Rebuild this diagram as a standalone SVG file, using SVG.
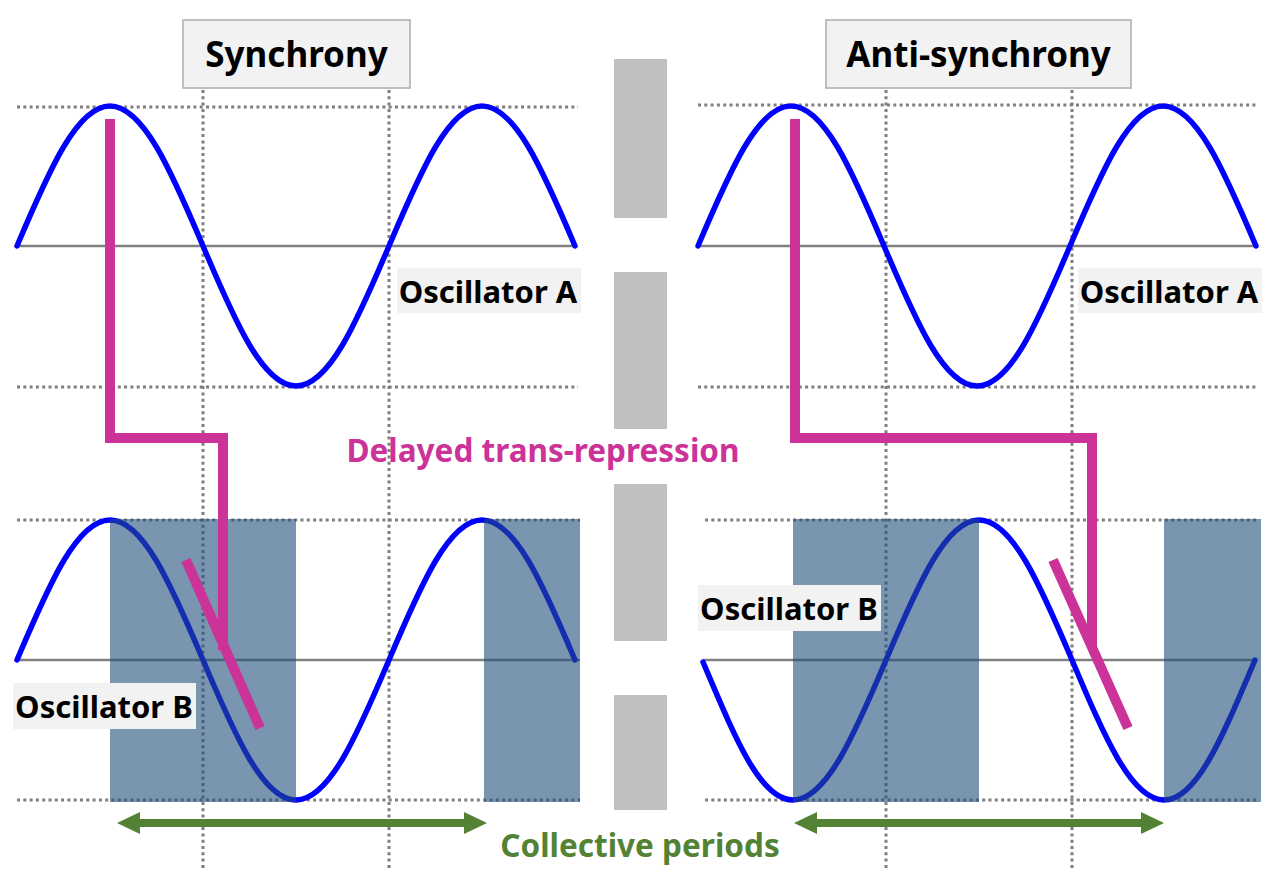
<svg xmlns="http://www.w3.org/2000/svg" width="1276" height="881" viewBox="0 0 1276 881">
<defs>
<style>
.dot{stroke:#7F7F7F;stroke-width:3;stroke-dasharray:3 3.3;fill:none}
.axis{stroke:#808080;stroke-width:2.5;fill:none}
.wave{stroke:#0000FF;stroke-width:5.5;fill:none;stroke-linecap:round}
.shade{fill:#1F4E79;opacity:0.6}
.rep{stroke:#CC3399;stroke-width:10;fill:none;stroke-linejoin:miter}
.bar{fill:#BFBFBF}
.arr{fill:#548235}
.title{fill:#F2F2F2;stroke:#BFBFBF;stroke-width:2}
.lbox{fill:#F2F2F2}
.t{font-family:"Noto Sans","Open Sans",sans-serif;font-weight:bold;text-anchor:middle}
</style>
</defs>
<g id="grid">
<line class="dot" x1="17" y1="107" x2="578" y2="107"/>
<line class="dot" x1="17" y1="387" x2="578" y2="387"/>
<line class="dot" x1="17" y1="520" x2="580" y2="520"/>
<line class="dot" x1="17" y1="800" x2="580" y2="800"/>
<line class="dot" x1="698" y1="105" x2="1258" y2="105"/>
<line class="dot" x1="698" y1="387" x2="1258" y2="387"/>
<line class="dot" x1="705" y1="520" x2="1258" y2="520"/>
<line class="dot" x1="705" y1="800" x2="1258" y2="800"/>
<line class="dot" x1="203" y1="90" x2="203" y2="870"/>
<line class="dot" x1="389" y1="90" x2="389" y2="870"/>
<line class="dot" x1="886" y1="90" x2="886" y2="870"/>
<line class="dot" x1="1072" y1="90" x2="1072" y2="870"/>
<line class="axis" x1="17" y1="246" x2="575" y2="246"/>
<line class="axis" x1="17" y1="660" x2="580" y2="660"/>
<line class="axis" x1="698" y1="246" x2="1258" y2="246"/>
<line class="axis" x1="703" y1="660" x2="1255" y2="660"/>
</g>
<g id="bars">
<rect class="bar" x="614" y="59" width="53" height="159"/>
<rect class="bar" x="614" y="272" width="53" height="157"/>
<rect class="bar" x="614" y="484" width="53" height="157"/>
<rect class="bar" x="614" y="695" width="53" height="115"/>
</g>
<g id="oscA-left">
<path class="wave" d="M17,246 C49.7,168.7 77.3,106 110,106 S170.3,168.7 203,246 S263.3,386 296,386 S356.3,323.3 389,246 S449.3,106 482,106 S542.3,168.7 575,246"/>
</g>
<g id="oscB-left">
<path class="wave" d="M17,660 C49.7,582.7 77.3,520 110,520 S170.3,582.7 203,660 S263.3,800 296,800 S356.3,737.3 389,660 S449.3,520 482,520 S542.3,582.7 575,660"/>
<rect class="shade" x="110" y="519" width="186" height="283"/>
<rect class="shade" x="484" y="519" width="96" height="283"/>
</g>
<g id="oscA-right">
<path class="wave" d="M698,246 C730.7,168.7 758.3,106 791,106 S851.3,168.7 884,246 S944.3,386 977,386 S1037.3,323.3 1070,246 S1130.3,106 1163,106 S1223.3,168.7 1256,246"/>
</g>
<g id="oscB-right">
<path class="wave" d="M703,662 C735.7,739.3 760.3,800 793,800 S853.3,737.3 886,660 S946.3,520 979,520 S1039.3,582.7 1072,660 S1131.3,800 1164,800 S1222.3,737.3 1255,660"/>
<rect class="shade" x="793" y="519" width="186" height="283"/>
<rect class="shade" x="1164" y="519" width="97" height="283"/>
</g>
<g id="connectors">
<path class="rep" d="M110,119 V438 H223 V650"/>
<line class="rep" x1="186" y1="560" x2="260" y2="728"/>
<path class="rep" d="M795,119 V438 H1092 V648"/>
<line class="rep" x1="1053" y1="560" x2="1128" y2="728"/>
<g class="arr">
<rect x="138" y="819" width="328" height="8"/>
<polygon points="117,823 140,812 140,834"/>
<polygon points="487,823 464,812 464,834"/>
<rect x="815" y="819" width="328" height="8"/>
<polygon points="794,823 817,812 817,834"/>
<polygon points="1164,823 1141,812 1141,834"/>
</g>
</g>
<g id="title-sync">
<rect class="title" x="183" y="20" width="227" height="68"/>
<text class="t" x="296.5" y="67" font-size="35" fill="#000">Synchrony</text>
</g>
<g id="title-anti">
<rect class="title" x="826" y="20" width="305" height="68"/>
<text class="t" x="978.5" y="67" font-size="35" fill="#000">Anti-synchrony</text>
</g>
<g id="label-A-left">
<rect class="lbox" x="397" y="268" width="184" height="45"/>
<text class="t" x="488" y="303" font-size="31" fill="#000">Oscillator A</text>
</g>
<g id="label-A-right">
<rect class="lbox" x="1078" y="268" width="184" height="45"/>
<text class="t" x="1169" y="303" font-size="31" fill="#000">Oscillator A</text>
</g>
<g id="label-B-left">
<rect class="lbox" x="13" y="683" width="183" height="46"/>
<text class="t" x="104" y="718" font-size="31" fill="#000">Oscillator B</text>
</g>
<g id="label-B-right">
<rect class="lbox" x="698" y="585" width="183" height="46"/>
<text class="t" x="789" y="620" font-size="31" fill="#000">Oscillator B</text>
</g>
<g id="label-delay">
<text class="t" x="543" y="462" font-size="31.5" fill="#CC3399">Delayed trans-repression</text>
</g>
<g id="label-periods">
<text class="t" x="640" y="857" font-size="31.5" fill="#548235">Collective periods</text>
</g>
</svg>
